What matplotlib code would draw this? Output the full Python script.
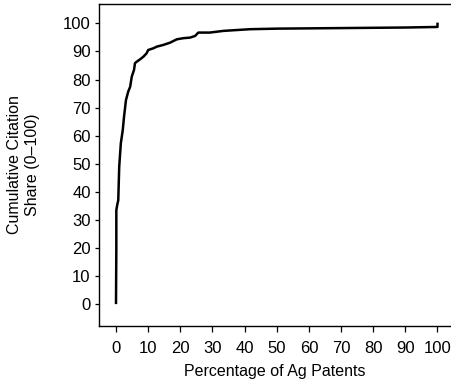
import matplotlib
matplotlib.use("Agg")
import matplotlib.pyplot as plt

plt.rcParams['font.family'] = ['Liberation Sans', 'DejaVu Sans']

# Percentage of Ag patents (x) vs cumulative citation share (y)
pct_patents = [0.0, 0.1, 0.1, 0.4, 0.7, 1.0, 1.5, 2.1, 2.5, 3.1, 3.8, 4.4, 4.9,
               5.6, 5.9, 6.4, 7.5, 8.5, 9.5, 10.0, 11.6, 12.7, 14.7, 16.8,
               18.9, 20.9, 23.0, 24.6, 25.6, 29.2, 33.4, 37.5, 41.7, 50.0,
               60.0, 70.0, 80.0, 90.0, 100.0, 100.0]
cum_share = [0.5, 20.0, 33.5, 35.5, 37.0, 49.0, 57.3, 62.0, 66.8, 72.7, 75.7,
             77.4, 81.0, 83.4, 85.8, 86.3, 87.2, 88.1, 89.3, 90.5, 91.1, 91.7,
             92.3, 93.1, 94.3, 94.7, 94.9, 95.5, 96.7, 96.7, 97.3, 97.6, 97.9,
             98.1, 98.2, 98.3, 98.4, 98.5, 98.7, 99.8]

x_ticks = list(range(0, 101, 10))
y_ticks = list(range(0, 101, 10))

fig = plt.figure(figsize=(4.51, 3.85), dpi=100)
W, H = 451, 385
ax = fig.add_axes([99 / W, (H - 325.7) / H, (W - 99) / W, (325.7 - 4) / H])

ax.plot(pct_patents, cum_share, color='black', linewidth=1.8,
        solid_joinstyle='round')

ax.set_xlim(-5.29, 104.2)
ax.set_ylim(-7.62, 106.87)
ax.set_xticks(x_ticks)
ax.set_yticks(y_ticks)
ax.spines['right'].set_visible(False)
for s in ['top', 'left', 'bottom']:
    ax.spines[s].set_linewidth(1.0)
ax.tick_params(axis='x', length=4, width=0.9, pad=7, labelsize=12)
ax.tick_params(axis='y', length=3, width=0.9, pad=3, labelsize=12)

ax.set_xlabel('Percentage of Ag Patents', fontsize=11.5, labelpad=6)
fig.text(24 / W, (H - 165) / H,
         'Cumulative Citation\nShare (0\u2013100)', rotation=90,
         ha='center', va='center', fontsize=11.5, linespacing=1.25)

fig.savefig('out.png', dpi=100)
